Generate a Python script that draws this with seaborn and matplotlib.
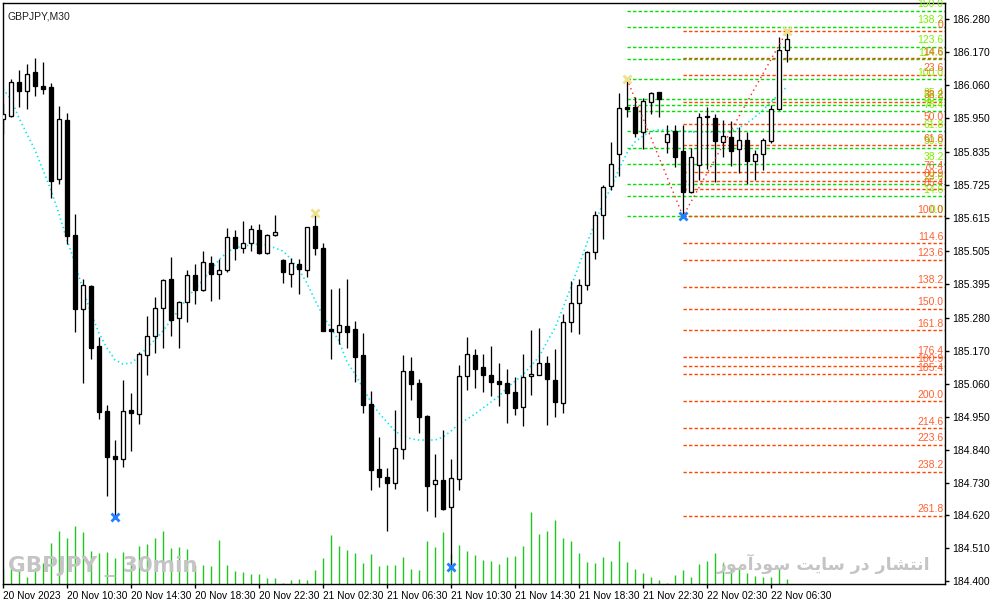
import matplotlib
matplotlib.use("Agg")
import matplotlib.pyplot as plt
import numpy as np
import seaborn as sns

# GBPJPY M30, 20 Nov 06:30 -> 22 Nov 07:30
opens = [185.946, 185.956, 186.069, 186.039, 186.103, 186.056, 186.053, 185.745, 185.942, 185.558,
         185.310, 185.387, 185.187, 184.969, 184.819, 184.809, 184.972, 184.959, 185.156, 185.220,
         185.314, 185.411, 185.280, 185.334, 185.424, 185.374, 185.464, 185.427, 185.441, 185.551,
         185.514, 185.531, 185.574, 185.498, 185.558, 185.474, 185.427, 185.461, 185.441, 185.588,
         185.514, 185.243, 185.233, 185.253, 185.243, 185.156, 184.992, 184.775, 184.748, 184.728,
         184.842, 185.103, 185.063, 184.952, 184.725, 184.738, 184.648, 184.742, 185.086, 185.156,
         185.116, 185.090, 185.069, 185.063, 185.033, 184.983, 185.086, 185.090, 185.130, 185.073,
         184.996, 185.267, 185.330, 185.391, 185.501, 185.625, 185.722, 185.829, 185.986, 185.986,
         185.902, 186.002, 186.036, 185.869, 185.905, 185.839, 185.702, 185.792, 185.956, 185.949,
         185.869, 185.885, 185.845, 185.875, 185.805, 185.829, 185.872, 185.979, 186.176]
highs = [185.999, 186.079, 186.109, 186.130, 186.150, 186.136, 186.066, 185.989, 185.966, 185.628,
         185.411, 185.389, 185.217, 184.989, 184.872, 185.073, 185.029, 185.166, 185.287, 185.350,
         185.409, 185.484, 185.337, 185.441, 185.461, 185.504, 185.487, 185.477, 185.581, 185.574,
         185.605, 185.591, 185.594, 185.561, 185.625, 185.477, 185.481, 185.477, 185.586, 185.631,
         185.531, 185.377, 185.380, 185.411, 185.270, 185.230, 185.036, 184.882, 184.778, 184.972,
         185.156, 185.150, 185.076, 184.956, 184.825, 184.906, 184.809, 185.123, 185.217, 185.176,
         185.160, 185.187, 185.130, 185.110, 185.083, 185.160, 185.240, 185.247, 185.153, 185.176,
         185.294, 185.404, 185.411, 185.504, 185.638, 185.725, 185.869, 186.033, 186.079, 186.019,
         186.016, 186.036, 186.037, 185.926, 185.926, 185.926, 185.849, 185.966, 185.986, 185.962,
         185.942, 185.939, 185.919, 185.902, 185.842, 185.882, 185.992, 186.220, 186.240]
lows = [185.895, 185.952, 185.986, 185.979, 186.023, 186.029, 185.681, 185.728, 185.528, 185.233,
        185.063, 185.143, 184.942, 184.685, 184.615, 184.782, 184.835, 184.926, 185.090, 185.163,
        185.180, 185.220, 185.180, 185.267, 185.327, 185.370, 185.337, 185.344, 185.434, 185.474,
        185.498, 185.504, 185.494, 185.494, 185.556, 185.397, 185.384, 185.360, 185.417, 185.491,
        185.235, 185.143, 185.193, 185.180, 185.066, 184.962, 184.705, 184.715, 184.568, 184.708,
        184.809, 185.006, 184.896, 184.635, 184.615, 184.638, 184.448, 184.705, 185.039, 185.046,
        185.033, 185.019, 184.986, 184.929, 184.956, 184.919, 185.023, 185.088, 184.922, 184.949,
        184.962, 185.233, 185.227, 185.374, 185.477, 185.544, 185.708, 185.755, 185.952, 185.885,
        185.845, 185.962, 185.952, 185.832, 185.785, 185.621, 185.698, 185.742, 185.778, 185.735,
        185.818, 185.788, 185.765, 185.728, 185.742, 185.775, 185.865, 185.976, 186.136]
closes = [185.962, 186.069, 186.039, 186.096, 186.056, 186.046, 185.738, 185.946, 185.554, 185.310,
          185.391, 185.180, 184.966, 184.815, 184.809, 184.969, 184.962, 185.160, 185.220, 185.314,
          185.407, 185.273, 185.334, 185.424, 185.374, 185.467, 185.427, 185.441, 185.551, 185.514,
          185.531, 185.578, 185.498, 185.558, 185.568, 185.434, 185.464, 185.444, 185.584, 185.514,
          185.237, 185.237, 185.257, 185.233, 185.150, 184.989, 184.772, 184.748, 184.728, 184.845,
          185.103, 185.059, 184.949, 184.718, 184.738, 184.641, 184.745, 185.086, 185.160, 185.110,
          185.090, 185.066, 185.059, 185.029, 184.979, 185.083, 185.093, 185.130, 185.076, 184.999,
          185.267, 185.330, 185.391, 185.501, 185.625, 185.718, 185.795, 185.982, 185.979, 185.899,
          186.006, 186.033, 186.012, 185.895, 185.818, 185.702, 185.818, 185.952, 185.952, 185.872,
          185.889, 185.839, 185.875, 185.805, 185.829, 185.875, 185.979, 186.176, 186.213]
volumes = [300, 300, 300, 140, 320, 420, 820, 1060, 920, 1160,
           1040, 660, 620, 640, 520, 640, 480, 760, 800, 920,
           1060, 720, 740, 700, 380, 380, 360, 880, 380, 260,
           240, 200, 200, 120, 120, 20, 80, 100, 80, 280,
           520, 980, 760, 680, 620, 420, 600, 360, 380, 380,
           540, 300, 280, 860, 740, 1040, 600, 780, 660, 580,
           480, 460, 400, 540, 560, 760, 1440, 1000, 1060, 1280,
           920, 860, 620, 440, 420, 540, 460, 860, 440, 300,
           220, 140, 80, 20, 180, 280, 140, 400, 460, 620,
           420, 300, 300, 220, 160, 140, 140, 320, 100]
ma_line = [186.046, 186.012, 185.949, 185.895, 185.842, 185.775, 185.708, 185.628, 185.541, 185.464,
           185.374, 185.297, 185.230, 185.180, 185.140, 185.126, 185.130, 185.150, 185.183, 185.207,
           185.237, 185.273, 185.307, 185.347, 185.377, 185.407, 185.441, 185.474, 185.501, 185.514,
           185.521, 185.524, 185.528, 185.524, 185.514, 185.504, 185.477, 185.441, 185.397, 185.340,
           185.287, 185.247, 185.203, 185.133, 185.093, 185.046, 184.999, 184.962, 184.932, 184.902,
           184.886, 184.876, 184.872, 184.872, 184.872, 184.882, 184.902, 184.926, 184.942, 184.959,
           184.979, 184.999, 185.019, 185.046, 185.069, 185.090, 185.120, 185.150, 185.200, 185.247,
           185.314, 185.384, 185.457, 185.531, 185.598, 185.665, 185.715, 185.778, 185.832, 185.869,
           185.889, 185.905, 185.909, 185.909, 185.905, 185.905, 185.902, 185.902, 185.902, 185.902,
           185.902, 185.905, 185.916, 185.932, 185.952, 185.976, 186.002, 186.029, 186.053]

time_labels = ["20 Nov 2023", "20 Nov 10:30", "20 Nov 14:30", "20 Nov 18:30", "20 Nov 22:30",
               "21 Nov 02:30", "21 Nov 06:30", "21 Nov 10:30", "21 Nov 14:30", "21 Nov 18:30",
               "21 Nov 22:30", "22 Nov 02:30", "22 Nov 06:30"]
price_ticks = [186.280, 186.170, 186.060, 185.950, 185.835, 185.725, 185.615, 185.505, 185.395,
               185.280, 185.170, 185.060, 184.950, 184.840, 184.730, 184.620, 184.510, 184.400]

# zigzag swing points (bar index, price)
zz_idx = [78, 85, 98]
zz_price = [186.079, 185.621, 186.240]
swing_high_idx = [39, 78, 98]
swing_high = [185.631, 186.079, 186.240]
swing_low_idx = [14, 56, 85]
swing_low = [184.615, 184.448, 185.621]

green_levels = [0.0, 14.6, 23.6, 38.2, 50.0, 61.8, 76.4, 80.9, 85.4, 100.0, 114.6, 123.6, 138.2, 150.0]
red_levels = [0, 14.6, 23.6, 38.2, 50.0, 61.8, 76.4, 80.9, 85.4, 100.0, 114.6, 123.6, 138.2, 150.0,
              161.8, 176.4, 180.9, 185.4, 200.0, 214.6, 223.6, 238.2, 261.8]

sns.set_style("white")
plt.rcParams['font.family'] = ['Liberation Sans', 'DejaVu Sans']
plt.rcParams['lines.scale_dashes'] = False

fig = plt.figure(figsize=(9.91, 6.05), dpi=100)
ax = fig.add_axes([2.5 / 991, 21 / 605, 942.5 / 991, 581 / 605])
xmax = 117.75
n = len(opens)
idx = np.arange(n)
px = 0.72  # one pixel in points

# volume in the same pane
axv = ax.twinx()
axv.vlines(idx, 0, volumes, color='#1ec81e', lw=1.0)
axv.set_ylim(0, 11620)
axv.set_yticks([])
axv.set_zorder(0)
ax.set_zorder(1)
ax.patch.set_visible(False)

# candles
ax.vlines(idx, lows, highs, color='black', lw=px * 1.3, zorder=3)
bull = [c >= o for o, c in zip(opens, closes)]
for i in range(n):
    o, c = opens[i], closes[i]
    ax.bar(i, c - o, bottom=o, width=0.62, color='white' if bull[i] else 'black',
           edgecolor='black', linewidth=px * 1.3, zorder=4)

# centred moving average
sns.lineplot(x=idx, y=ma_line, ax=ax, color='#00e8f0', lw=1.2, linestyle=(0, (1, 2.2)), zorder=2)

# fibonacci levels
g_lo, g_hi = 185.621, 186.079
r_hi, r_lo = 186.240, 185.621
for k in green_levels:
    p = g_lo + k / 100 * (g_hi - g_lo)
    ax.hlines(p, 78, xmax, color='#00e000', lw=1.0, linestyle=(0, (2.4, 1.6)), zorder=2)
    ax.annotate(f"{k:.1f}", xy=(1, p), xycoords=('axes fraction', 'data'), xytext=(-1, 1),
                textcoords='offset points', ha='right', va='bottom', fontsize=7.5, color='#7cf000', zorder=5)
for k in red_levels:
    p = r_hi - k / 100 * (r_hi - r_lo)
    ax.hlines(p, 85, xmax, color='#ff4500', lw=1.0, linestyle=(0, (2.4, 1.6)), zorder=2)
    lab = "0" if k == 0 else f"{k:.1f}"
    ax.annotate(lab, xy=(1, p), xycoords=('axes fraction', 'data'), xytext=(-1, 1),
                textcoords='offset points', ha='right', va='bottom', fontsize=7.5, color='#ff6030', zorder=6)

# zigzag
sns.lineplot(x=zz_idx, y=zz_price, ax=ax, color='#ff2020', lw=1.0, linestyle=(0, (1, 2.5)), zorder=5)
ax.plot(swing_high_idx, swing_high, 'x', color='#f0e08c', ms=6, mew=2, zorder=7)
ax.plot(swing_low_idx, swing_low, 'x', color='#2080ff', ms=6, mew=2, zorder=7)

ax.set_xlim(-0.06, xmax)
ax.set_ylim(184.3906, 186.3335)
axv.set_xlim(-0.06, xmax)

ax.set_xticks(np.arange(0, 97, 8))
ax.set_xticklabels(time_labels)
for t in ax.get_xticklabels():
    t.set_horizontalalignment('left')
ax.yaxis.tick_right()
ax.set_yticks(price_ticks)
ax.set_yticklabels([f"{v:.3f}" for v in price_ticks])
ax.tick_params(axis='x', bottom=True, length=3, width=1, pad=2, labelsize=7.3, colors='black')
ax.tick_params(axis='y', right=True, left=False, length=3, width=1, pad=2, labelsize=7.5, colors='black')
ax.set_xlabel("")
ax.set_ylabel("")
for s in ax.spines.values():
    s.set_color('black')
    s.set_linewidth(1)
for s in axv.spines.values():
    s.set_visible(False)

ax.text(0.005, 0.985, "GBPJPY,M30", transform=ax.transAxes, ha='left', va='top',
        fontsize=7.5, color='#202020')
ax.text(0.006, 0.012, "GBPJPY _ 30min", transform=ax.transAxes, ha='left', va='bottom',
        fontsize=15.5, fontweight='bold', color='#c4c4c4', family=['DejaVu Sans'], zorder=1)
ax.text(0.985, 0.018, "ﺯﻮﻣﺁﺩﻮﺳ ﺖﻳﺎﺳ ﺭﺩ ﺭﺎﺸﺘﻧﺍ", transform=ax.transAxes, ha='right', va='bottom',
        fontsize=12.5, fontweight='bold', color='#c4c4c4', family=['DejaVu Sans'], zorder=1)

fig.savefig("out.png", dpi=100)
